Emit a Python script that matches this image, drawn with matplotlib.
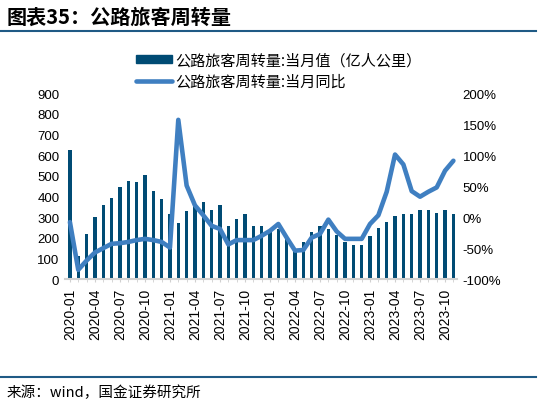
import numpy as np
import pandas as pd
import matplotlib
matplotlib.use("Agg")
import matplotlib.pyplot as plt
from matplotlib.lines import Line2D

plt.rcParams['font.family'] = ['Liberation Sans', 'Noto Sans CJK SC', 'DejaVu Sans']

# monthly data, 2020-01 .. 2023-11
months = pd.period_range('2020-01', '2023-11', freq='M').strftime('%Y-%m').tolist()

volume = [627, 110, 219, 300, 358, 394, 446, 475, 469, 504, 425, 388,
          313, 271, 331, 357, 373, 336, 357, 256, 292, 313, 256, 256,
          230, 245, 195, 138, 178, 227, 255, 243, 216, 178, 167, 167,
          211, 248, 276, 305, 313, 313, 336, 336, 321, 336, 313]

yoy = [-8, -85, -70, -57, -50, -43, -42, -40, -37, -35, -37, -40,
       -49, 157, 51, 19, 3, -14, -19, -44, -37, -37, -37, -30,
       -22, -11, -33, -54, -53, -33, -27, -4, -23, -35, -35, -35,
       -11, 3, 41, 101, 85, 42, 33, 41, 48, 75, 91]

left_ticks = list(range(0, 901, 100))
right_ticks = list(range(-100, 201, 50))

bar_color = '#004b74'
line_color = '#3f7fc1'

fig = plt.figure(figsize=(5.41, 4.06), dpi=100)
ax = fig.add_axes([0.120, 0.310, 0.725, 0.458])
ax2 = ax.twinx()

x = np.arange(len(months))
ax.bar(x, volume, width=0.4, color=bar_color, zorder=2)
ax2.plot(x, yoy, color=line_color, linewidth=3.3, solid_capstyle='round', zorder=3)

ax.set_xlim(-0.6, len(months) - 0.55)
ax.set_ylim(0, 900)
ax2.set_ylim(-100, 200)
ax.set_yticks(left_ticks)
ax2.set_yticks(right_ticks)
ax2.set_yticklabels([f'{v}%' for v in right_ticks])

ax.set_xticks(x[::3])
ax.set_xticklabels(months[::3], rotation=90, fontsize=10)
ax.set_xticks(x, minor=True)

for a in (ax, ax2):
    for s in a.spines.values():
        s.set_visible(False)
    a.tick_params(axis='y', length=0, labelsize=9.5, pad=4)
ax.spines['bottom'].set_visible(True)
ax.spines['bottom'].set_color('#d0d0d0')
ax.spines['bottom'].set_linewidth(1.5)
ax.tick_params(axis='x', which='both', length=2, color='#d0d0d0', pad=4)

# line axis drawn above the bars
ax.set_zorder(1)
ax2.set_zorder(2)
ax.patch.set_visible(False)

handles = [plt.Rectangle((0, 0), 1, 1, color=bar_color),
           Line2D([0], [0], color=line_color, linewidth=3.3, solid_capstyle='round')]
labels = ['公路旅客周转量:当月值（亿人公里）', '公路旅客周转量:当月同比']
fig.legend(handles, labels, loc='upper left', bbox_to_anchor=(0.238, 0.89),
           frameon=False, handlelength=2.35, handleheight=0.5,
           handletextpad=0.25, labelspacing=0.3, borderpad=0,
           prop={'family': ['Noto Sans CJK SC'], 'size': 10.9})

fig.text(0.012, 0.957, '图表35：公路旅客周转量', fontsize=14.5, fontweight='bold',
         style='italic', family=['Noto Sans CJK SC'], va='center', ha='left')
fig.add_artist(Line2D([0.0, 0.99], [0.922, 0.922], color='#1f5a85', linewidth=1.5))
fig.add_artist(Line2D([0.0, 0.99], [0.069, 0.069], color='#1f5a85', linewidth=1.5))
fig.text(0.012, 0.033, '来源：wind，国金证券研究所', fontsize=10.5,
         family=['Noto Sans CJK SC'], va='center', ha='left')

fig.savefig('out.png', dpi=100)
